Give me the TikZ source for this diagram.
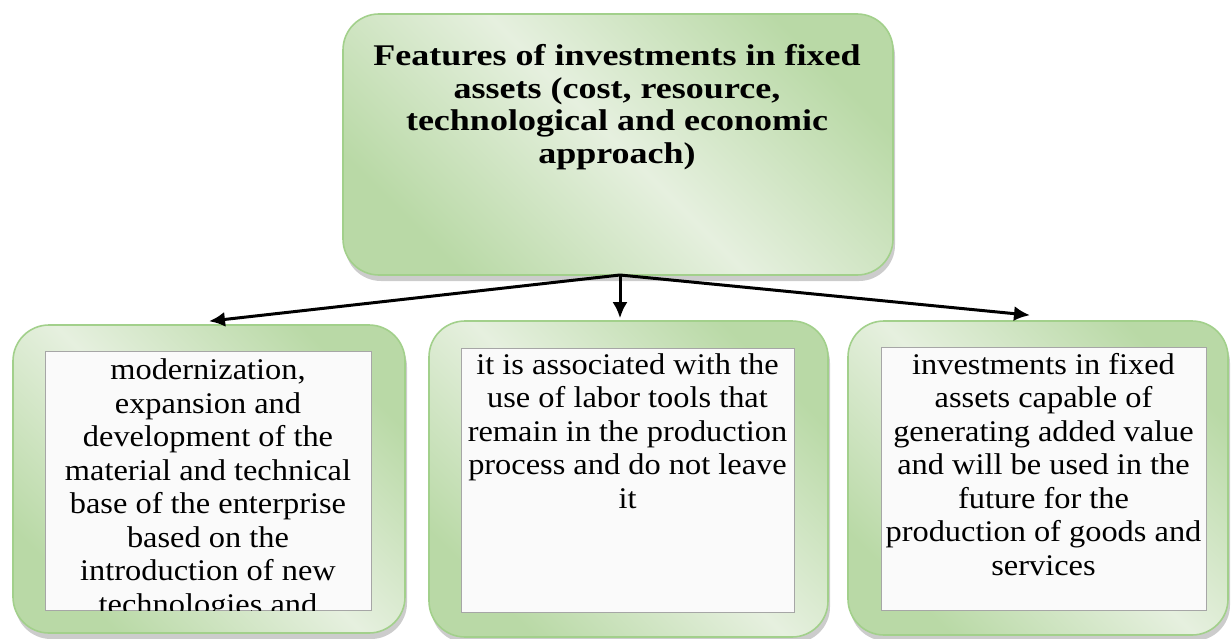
\documentclass[tikz,border=0pt]{standalone}
\usepackage{fontspec}
\setmainfont{Liberation Serif}[FakeStretch=1.08]
\newfontfamily\headfont{Liberation Serif}[FakeStretch=1.2]
\usetikzlibrary{arrows.meta,shadows}

\definecolor{glight}{HTML}{E6F0DF}
\definecolor{gdark}{HTML}{B9D9A6}
\definecolor{gline}{HTML}{A2D08B}
\definecolor{paper}{HTML}{FAFAFA}

\tikzset{
	greenbox/.style={shape=rectangle, rounded corners=36pt, draw=gline, line width=1.6pt,
		top color=gdark, bottom color=gdark, middle color=glight, shading angle=-45,
		drop shadow={shadow xshift=2pt, shadow yshift=-6pt, fill=black!40},
		inner sep=0pt},
	whitebox/.style={shape=rectangle, draw=black!35, line width=0.6pt, fill=paper, inner sep=0pt},
	boxtext/.style={anchor=north, align=center, inner sep=0pt, font=\fontsize{30}{33.5}\selectfont},
	headtext/.style={anchor=north, align=center, inner sep=0pt, font=\headfont\bfseries\fontsize{30}{32.5}\selectfont},
	toarrow/.style={line width=3pt, -{Latex[length=16pt,width=15pt]}}
}

\begin{document}
\begin{tikzpicture}[x=1pt,y=-1pt]
	\useasboundingbox (0,0) rectangle (1231,639);

	\node[greenbox, minimum width=550pt, minimum height=261pt] (feat)   at (618,144.5) {};
	\node[greenbox, minimum width=392pt, minimum height=308pt] (modern) at (209,479)   {};
	\node[greenbox, minimum width=399pt, minimum height=316pt] (labor)  at (628.5,479) {};
	\node[greenbox, minimum width=380pt, minimum height=314pt] (value)  at (1038,478)  {};

	\node[headtext] (feattext) at (617,44.5)
		{Features of investments in fixed\\ assets (cost, resource,\\ technological and economic\\ approach)};

	\node[whitebox, minimum width=326pt, minimum height=259pt] (modernin) at (208,480.5) {};
	\node[whitebox, minimum width=333pt, minimum height=264pt] (laborin)  at (627.5,480) {};
	\node[whitebox, minimum width=325pt, minimum height=263pt] (valuein)  at (1043.5,478.5) {};

	\begin{scope}
		\clip (modernin.north west) rectangle (modernin.south east);
		\node[boxtext] (moderntext) at (208,358.5)
			{modernization,\\ expansion and\\ development of the\\ material and technical\\ base of the enterprise\\ based on the\\ introduction of new\\ technologies and};
	\end{scope}
	\node[boxtext] (labortext) at (627.5,353)
		{it is associated with the\\ use of labor tools that\\ remain in the production\\ process and do not leave\\ it};
	\node[boxtext] (valuetext) at (1043.5,353)
		{investments in fixed\\ assets capable of\\ generating added value\\ and will be used in the\\ future for the\\ production of goods and\\ services};

	\coordinate (split) at (620,275);

	\path [toarrow] (split) edge ([yshift=3pt]modern.north);
	\path [toarrow] (split) edge ([yshift=2pt]labor.north -| split);
	\path [toarrow] (split) edge ([xshift=-8pt,yshift=5pt]value.north);
\end{tikzpicture}
\end{document}
